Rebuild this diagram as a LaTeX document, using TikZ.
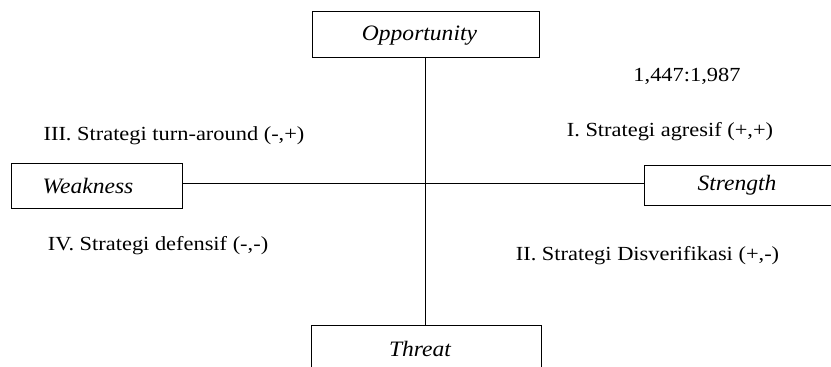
\documentclass[tikz,border=0pt]{standalone}
\usepackage{fontspec}
\setmainfont{Liberation Serif}[FakeStretch=1.12]
\newfontfamily\faktorfont{Liberation Serif}[FakeStretch=1.07]
\usetikzlibrary{positioning}
\tikzstyle{faktor} = [draw, line width=0.8pt, rectangle, inner sep=0pt]
\tikzstyle{faktorteks} = [inner sep=0pt, anchor=base, font=\faktorfont\itshape\fontsize{22}{26}\selectfont]
\tikzstyle{strategi} = [inner sep=0pt, anchor=base, font=\fontsize{20}{24}\selectfont]

\begin{document}
\begin{tikzpicture}[x=1pt, y=-1pt]
	\useasboundingbox (0,0) rectangle (831,367);
	\clip (0,0) rectangle (831,367);
	% empat faktor SWOT
	\node [faktor, minimum width=227pt, minimum height=46pt] (opp) at (426,34) {};
	\node [faktor, minimum width=171pt, minimum height=45pt] (weak) at (97,185.5) {};
	\node [faktor, minimum width=196pt, minimum height=40pt] (str) at (742,185) {};
	\node [faktor, minimum width=230pt, minimum height=60pt, anchor=north] (thr) at (426,325) {};
	\node [faktorteks] (opplabel) at (419.5,40) {Opportunity};
	\node [faktorteks] (weaklabel) at (88,193) {Weakness};
	\node [faktorteks] (strlabel) at (737,190) {Strength};
	\node [faktorteks] (thrlabel) at (420,356) {Threat};
	% sumbu
	\draw [line width=0.8pt] (opp.south -| 425,0) -- (thr.north -| 425,0);
	\draw [line width=0.8pt] (weak.east |- 0,183.5) -- (str.west |- 0,183.5);
	% kuadran
	\node [strategi] (titik) at (687,81) {1,447:1,987};
	\node [strategi] (agresif) at (670,136) {I. Strategi agresif (+,+)};
	\node [strategi] (turn) at (174,140) {III. Strategi turn-around (-,+)};
	\node [strategi] (defensif) at (158,250) {IV. Strategi defensif (-,-)};
	\node [strategi] (diversif) at (647.5,260) {II. Strategi Disverifikasi (+,-)};
\end{tikzpicture}
\end{document}
